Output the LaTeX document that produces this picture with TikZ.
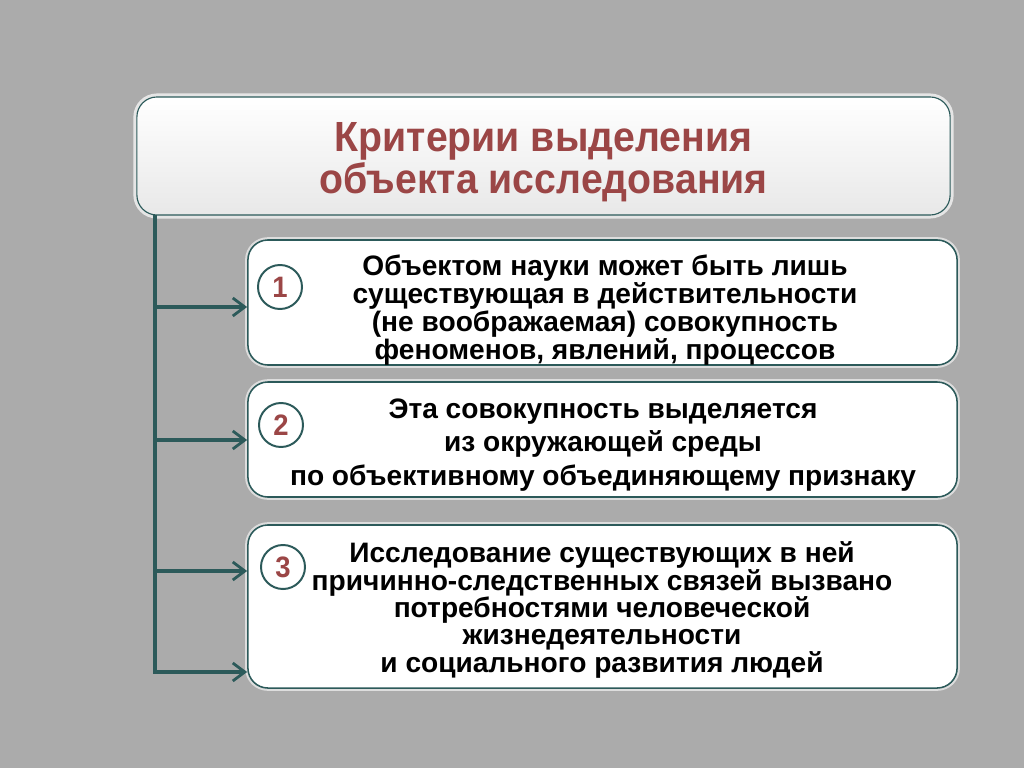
\documentclass[tikz,border=0pt]{standalone}
\usepackage{fontspec}
\setmainfont{Liberation Sans}
\newfontfamily\titlefont{Liberation Sans}[FakeStretch=0.93]
\usetikzlibrary{arrows.meta}
\definecolor{bggray}{HTML}{ABABAB}
\definecolor{teal}{HTML}{2C5A5A}
\definecolor{darkred}{HTML}{9B4646}
\begin{document}
\begin{tikzpicture}[x=0.025cm,y=-0.025cm,
  box/.style={shape=rectangle,rounded corners=0.5cm,draw=teal,line width=1.1pt,fill=white,
    minimum width=17.725cm,preaction={draw=white,line width=4pt,opacity=0.6}},
  boxtext/.style={align=center,font=\bfseries\fontsize{20}{18.5}\selectfont},
  num/.style={shape=circle,draw=teal,line width=1.4pt,fill=white,minimum size=1.1cm,inner sep=0pt,
    text=darkred,font=\titlefont\bfseries\fontsize{21}{21}\selectfont},
  link/.style={draw=teal,line width=3pt,-{Straight Barb[length=3mm,width=4.5mm,line width=2pt]}}]
\fill[bggray] (0,0) rectangle (1024,768);
\useasboundingbox (0,0) rectangle (1024,768);
% title
\node (title) at (543.5,156) [shape=rectangle,rounded corners=0.5cm,draw=teal,line width=0.8pt,
  top color=white,bottom color=gray!18,minimum width=20.325cm,minimum height=2.95cm,
  preaction={draw=white,line width=5pt,opacity=0.7}] {};
\node (titletext) at (543.5,162) [align=center,text=darkred,
  font=\titlefont\bfseries\fontsize{30}{30}\selectfont] {Критерии выделения\\объекта исследования};
% boxes
\node (box1) at (602.5,302.5) [box,minimum height=3.125cm] {};
\node (box2) at (602.5,439.5) [box,minimum height=2.875cm] {};
\node (box3) at (602.5,606.5) [box,minimum height=4.075cm] {};
\node (text1) at (605,310) [boxtext] {Объектом науки может быть лишь\\существующая в действительности\\(не воображаемая) совокупность\\феноменов, явлений, процессов};
\node (text2) at (603,445) [boxtext,font=\bfseries\fontsize{20}{23.8}\selectfont] {Эта совокупность выделяется\\из окружающей среды\\по объективному объединяющему признаку};
\node (text3) at (602,610) [boxtext,font=\bfseries\fontsize{20}{19.5}\selectfont] {Исследование существующих в ней\\причинно-следственных связей вызвано\\потребностями человеческой\\жизнедеятельности\\и социального развития людей};
\node (num1) at (280,287) [num] {1};
\node (num2) at (281,425) [num] {2};
\node (num3) at (283,567) [num] {3};
% trunk
\coordinate (top) at (155,215);
\coordinate (t1) at (155,307);
\coordinate (t2) at (155,440);
\coordinate (t3) at (155,571);
\coordinate (t4) at (155,672);
\draw[teal,line width=3pt] (top) -- ([yshift=-1.5pt]t4);
\draw[link] (t1) -- (box1.west |- t1);
\draw[link] (t2) -- (box2.west |- t2);
\draw[link] (t3) -- (box3.west |- t3);
\draw[link] (t4) -- (box3.west |- t4);
\end{tikzpicture}
\end{document}
